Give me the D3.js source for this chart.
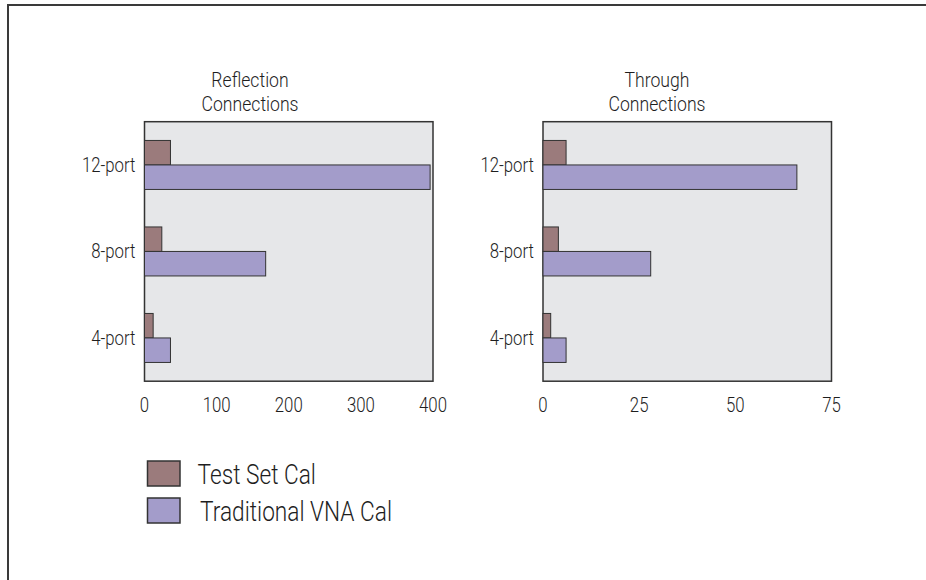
<!DOCTYPE html>
<html>
<head>
<meta charset="utf-8">
<script src="https://cdn.jsdelivr.net/npm/d3@7"></script>
<style>
  body { margin: 0; background: #fff; }
  svg text { font-family: "Roboto", "Liberation Sans", sans-serif; font-weight: 300; fill: #1e1e1e; }
</style>
</head>
<body>
<svg id="chart"></svg>
<script>
// data
const categories = ["12-port", "8-port", "4-port"];
const series = ["Test Set Cal", "Traditional VNA Cal"];
const colors = ["#9b7b7c", "#a39cca"];

const reflTestSet = [36, 24, 12];
const reflVNA = [396, 168, 36];
const reflTicks = [0, 100, 200, 300, 400];

const thruTestSet = [6, 4, 2];
const thruVNA = [66, 28, 6];
const thruTicks = [0, 25, 50, 75];

let width = 926, height = 580;
let squeeze = 0.84; // reference uses a condensed face

let svg = d3.select("#chart")
  .attr("width", width)
  .attr("height", height);

// condensed-looking text: real text, squeezed horizontally
const label = (parent, x, y, str, size, anchor) => {
  return parent.append("g")
    .attr("transform", `translate(${x},${y}) scale(${squeeze},1)`)
    .append("text")
    .attr("text-anchor", anchor)
    .style("font-size", size + "px")
    .text(str);
};

// outer frame (only top & left edges show)
svg.append("path")
  .attr("d", `M8,${height} L8,5 L${width},5`)
  .attr("fill", "none")
  .attr("stroke", "#3a3a3a")
  .attr("stroke-width", 2);

let plotTop = 121.7, plotH = 259.5, plotW = 288.5;

let panels = [
  { left: 144.5, title: ["Reflection", "Connections"], titleX: 250, a: reflTestSet, b: reflVNA, ticks: reflTicks },
  { left: 543, title: ["Through", "Connections"], titleX: 657, a: thruTestSet, b: thruVNA, ticks: thruTicks }
];

panels.forEach(p => {
  let g = svg.append("g");

  let x = d3.scaleLinear()
    .domain([0, d3.max(p.ticks)])
    .range([p.left, p.left + plotW]);

  let y0 = d3.scaleBand()
    .domain(categories)
    .range([plotTop, plotTop + plotH]);

  let groupH = 49;
  let y1 = d3.scaleBand()
    .domain(series)
    .range([0, groupH]);

  g.append("rect")
    .attr("x", p.left)
    .attr("y", plotTop)
    .attr("width", plotW)
    .attr("height", plotH)
    .attr("fill", "#e6e7e9")
    .attr("stroke", "#333")
    .attr("stroke-width", 1.5);

  // title, two lines
  p.title.forEach((line, i) => {
    label(g, p.titleX, 86.5 + i * 24, line, 21, "middle");
  });

  let rows = categories.map((c, i) => ({ cat: c, vals: [p.a[i], p.b[i]] }));

  let grp = g.selectAll(".grp")
    .data(rows)
    .enter()
    .append("g")
    .attr("transform", d => `translate(0,${y0(d.cat) + (y0.bandwidth() - groupH) / 2})`);

  grp.selectAll("rect")
    .data(d => d.vals.map((v, j) => ({ s: series[j], v: v, j: j })))
    .enter()
    .append("rect")
    .attr("x", x(0))
    .attr("y", d => y1(d.s))
    .attr("width", d => x(d.v) - x(0))
    .attr("height", y1.bandwidth())
    .attr("fill", d => colors[d.j])
    .attr("stroke", "#333")
    .attr("stroke-width", 1);

  // category labels
  categories.forEach(c => {
    label(g, p.left - 9, y0(c) + y0.bandwidth() / 2 + 7, c, 20, "end");
  });

  // x tick labels
  p.ticks.forEach(t => {
    label(g, x(t), 411.5, t, 20, "middle");
  });
});

// legend
let legend = svg.selectAll(".legend")
  .data(series)
  .enter()
  .append("g")
  .attr("transform", (d, i) => `translate(147.5,${461 + i * 37})`);

legend.append("rect")
  .attr("width", 32.5)
  .attr("height", 25)
  .attr("fill", (d, i) => colors[i])
  .attr("stroke", "#333")
  .attr("stroke-width", 1.5);

legend.each(function (d, i) {
  label(d3.select(this), 50 + i * 2.5, 22.5, d, 27, "start");
});
</script>
</body>
</html>
